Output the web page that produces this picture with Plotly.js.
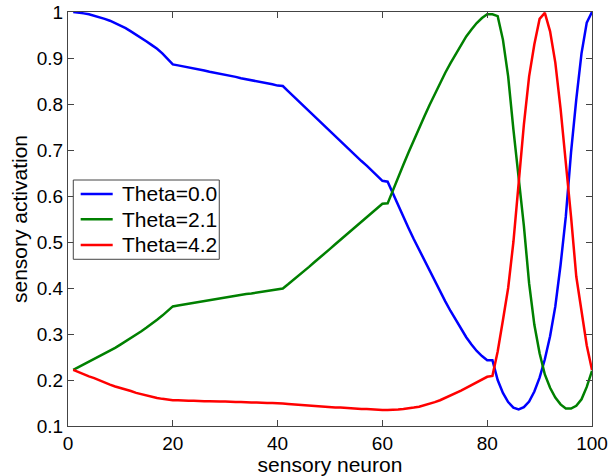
<!DOCTYPE html>
<html>
<head>
<meta charset="utf-8">
<script src="https://cdn.plot.ly/plotly-3.0.1.min.js"></script>
<style>html,body{margin:0;padding:0;background:#fff;}#chart{width:608px;height:476px;}</style>
</head>
<body>
<div id="chart"></div>
<script>
// sensory neuron indices 1..100
const neurons = [];
for (let i = 1; i <= 100; i++) neurons.push(i);

const seriesNames = ["Theta=0.0", "Theta=2.1", "Theta=4.2"];
const seriesColors = ["#0000FF", "#008000", "#FF0000"];

const theta00 = [
  1.000, 0.999, 0.997, 0.995, 0.992, 0.989, 0.985, 0.981, 0.976, 0.971,
  0.965, 0.958, 0.951, 0.944, 0.936, 0.928, 0.920, 0.910, 0.898, 0.886,
  0.884, 0.882, 0.879, 0.877, 0.875, 0.873, 0.870, 0.868, 0.866, 0.863,
  0.861, 0.859, 0.856, 0.854, 0.852, 0.850, 0.847, 0.845, 0.843, 0.840,
  0.839, 0.828, 0.817, 0.806, 0.796, 0.785, 0.774, 0.763, 0.752, 0.741,
  0.731, 0.720, 0.709, 0.698, 0.687, 0.676, 0.666, 0.655, 0.644, 0.633,
  0.631, 0.605, 0.580, 0.555, 0.530, 0.506, 0.483, 0.460, 0.437, 0.415,
  0.393, 0.371, 0.350, 0.330, 0.311, 0.293, 0.277, 0.263, 0.252, 0.243,
  0.243, 0.200, 0.172, 0.152, 0.140, 0.136, 0.141, 0.153, 0.175, 0.205,
  0.245, 0.295, 0.360, 0.450, 0.555, 0.695, 0.810, 0.910, 0.977, 1.000
];

const theta21 = [
  0.222, 0.228, 0.234, 0.240, 0.245, 0.251, 0.257, 0.263, 0.270, 0.277,
  0.284, 0.291, 0.298, 0.306, 0.314, 0.322, 0.331, 0.340, 0.350, 0.360,
  0.362, 0.364, 0.366, 0.368, 0.369, 0.371, 0.373, 0.375, 0.377, 0.379,
  0.381, 0.383, 0.385, 0.387, 0.388, 0.390, 0.392, 0.394, 0.396, 0.398,
  0.399, 0.408, 0.417, 0.427, 0.436, 0.446, 0.456, 0.465, 0.475, 0.485,
  0.495, 0.505, 0.515, 0.525, 0.535, 0.545, 0.554, 0.564, 0.573, 0.583,
  0.584, 0.613, 0.641, 0.668, 0.695, 0.722, 0.748, 0.773, 0.798, 0.822,
  0.846, 0.868, 0.889, 0.909, 0.928, 0.947, 0.962, 0.976, 0.987, 0.995,
  0.995, 0.991, 0.940, 0.860, 0.745, 0.645, 0.535, 0.410, 0.320, 0.258,
  0.212, 0.183, 0.162, 0.147, 0.138, 0.138, 0.144, 0.158, 0.185, 0.220
];

const theta42 = [
  0.222, 0.217, 0.213, 0.208, 0.204, 0.199, 0.195, 0.190, 0.186, 0.183,
  0.179, 0.176, 0.172, 0.169, 0.166, 0.164, 0.161, 0.159, 0.157, 0.156,
  0.156, 0.155, 0.155, 0.155, 0.154, 0.154, 0.154, 0.153, 0.153, 0.153,
  0.152, 0.152, 0.152, 0.151, 0.151, 0.151, 0.150, 0.150, 0.150, 0.150,
  0.149, 0.148, 0.147, 0.146, 0.145, 0.144, 0.143, 0.143, 0.142, 0.141,
  0.140, 0.140, 0.139, 0.138, 0.138, 0.137, 0.137, 0.136, 0.136, 0.135,
  0.135, 0.135, 0.136, 0.137, 0.138, 0.140, 0.142, 0.145, 0.148, 0.152,
  0.156, 0.161, 0.166, 0.171, 0.177, 0.183, 0.189, 0.195, 0.202, 0.207,
  0.209, 0.262, 0.330, 0.400, 0.500, 0.630, 0.755, 0.860, 0.930, 0.985,
  0.998, 0.958, 0.890, 0.790, 0.680, 0.555, 0.425, 0.345, 0.275, 0.222
];

const xTicks = [0, 20, 40, 60, 80, 100];
const yTicks = [0.1, 0.2, 0.3, 0.4, 0.5, 0.6, 0.7, 0.8, 0.9, 1];
const yTickText = ["0.1", "0.2", "0.3", "0.4", "0.5", "0.6", "0.7", "0.8", "0.9", "1"];

const allSeries = [theta00, theta21, theta42];
const traces = allSeries.map((ys, i) => ({
  x: neurons,
  y: ys,
  type: "scatter",
  mode: "lines",
  name: seriesNames[i],
  showlegend: false,
  line: { color: seriesColors[i], width: 2.5 }
}));

const fontFam = "Liberation Sans, Arial, Helvetica, sans-serif";
const axisCommon = {
  showgrid: false,
  zeroline: false,
  showline: true,
  linecolor: "#444",
  linewidth: 1,
  mirror: "ticks",
  ticks: "inside",
  ticklen: 6,
  tickcolor: "#444",
  tickwidth: 1,
  tickfont: { family: fontFam, size: 19, color: "#000" }
};

// MATLAB-style legend box (paper coordinates of the plot area)
const legBox = { x0: 0.0101, x1: 0.2887, y0: 0.4027, y1: 0.5942 };
const legRowsY = [0.5604, 0.4993, 0.4372];
const legLineX = [0.0242, 0.0853];
const legTextX = 0.1000;

const shapes = [{
  type: "rect", xref: "paper", yref: "paper",
  x0: legBox.x0, x1: legBox.x1, y0: legBox.y0, y1: legBox.y1,
  line: { color: "#444", width: 1 }, fillcolor: "#fff", layer: "above"
}];
const annotations = [];
seriesNames.forEach((nm, i) => {
  shapes.push({
    type: "line", xref: "paper", yref: "paper",
    x0: legLineX[0], x1: legLineX[1], y0: legRowsY[i], y1: legRowsY[i],
    line: { color: seriesColors[i], width: 2.5 }, layer: "above"
  });
  annotations.push({
    xref: "paper", yref: "paper", x: legTextX, y: legRowsY[i],
    xanchor: "left", yanchor: "middle", showarrow: false,
    text: nm, font: { family: fontFam, size: 21, color: "#000" }
  });
});

const layout = {
  width: 608,
  height: 476,
  margin: { l: 68, r: 16, t: 12, b: 50 },
  paper_bgcolor: "#fff",
  plot_bgcolor: "#fff",
  font: { family: fontFam, size: 19, color: "#000" },
  showlegend: false,
  shapes: shapes,
  annotations: annotations,
  xaxis: Object.assign({}, axisCommon, {
    range: [0, 100],
    tickmode: "array",
    tickvals: xTicks,
    ticktext: xTicks.map(String),
    title: { text: "sensory neuron", font: { family: fontFam, size: 21, color: "#000" }, standoff: 0 }
  }),
  yaxis: Object.assign({}, axisCommon, {
    range: [0.1, 1],
    tickmode: "array",
    tickvals: yTicks,
    ticktext: yTickText,
    title: { text: "sensory activation", font: { family: fontFam, size: 21, color: "#000" }, standoff: 3 }
  })
};

Plotly.newPlot("chart", traces, layout, { displayModeBar: false, staticPlot: true });
</script>
</body>
</html>
